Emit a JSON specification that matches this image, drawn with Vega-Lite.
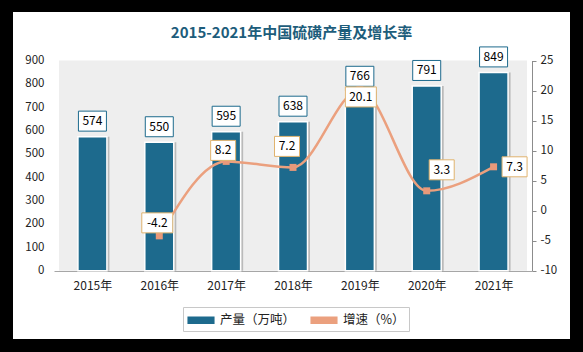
{
  "$schema": "https://vega.github.io/schema/vega-lite/v6.json",
  "width": 557,
  "height": 327,
  "autosize": {"type": "none"},
  "padding": {"left": 13, "top": 12, "right": 13, "bottom": 13},
  "background": "#000000",
  "config": {
    "view": {"stroke": null, "fill": "white"},
    "font": "Noto Sans CJK SC"
  },
  "title": {
    "text": "2015-2021年中国硫磺产量及增长率",
    "font": "Noto Sans CJK SC",
    "fontSize": 15,
    "fontWeight": "bold",
    "color": "#1d5d7b",
    "anchor": "middle",
    "baseline": "middle",
    "offset": -36
  },
  "data": {
    "values": [
      {"year": 2015, "output": 574, "growth": null},
      {"year": 2016, "output": 550, "growth": -4.2},
      {"year": 2017, "output": 595, "growth": 8.2},
      {"year": 2018, "output": 638, "growth": 7.2},
      {"year": 2019, "output": 766, "growth": 20.1},
      {"year": 2020, "output": 791, "growth": 3.3},
      {"year": 2021, "output": 849, "growth": 7.3}
    ]
  },
  "layer": [
    {
      "layer": [
        {
          "data": {"values": [{}]},
          "mark": {"type": "rect", "fill": "#eeeeee"},
          "encoding": {
            "x": {
              "datum": 2014.5,
              "type": "quantitative",
              "scale": {"domain": [2014.5, 2021.5], "range": [41, 519], "nice": false, "zero": false},
              "axis": {
                "title": null,
                "values": [2015, 2016, 2017, 2018, 2019, 2020, 2021],
                "labelExpr": "datum.value + '年'",
                "grid": false,
                "ticks": false,
                "tickSize": 0,
                "domainColor": "#a6a6a6",
                "labelPadding": 9,
                "labelFlush": false,
                "labelOverlap": false,
                "offset": -68,
                "labelFontSize": 12,
                "labelColor": "#222222",
                "labelFont": "Noto Sans CJK SC"
              }
            },
            "x2": {"datum": 2021.5},
            "y": {
              "datum": 0,
              "type": "quantitative",
              "scale": {"domain": [0, 900], "range": [258.7, 48.5], "nice": false, "zero": true},
              "axis": {
                "title": null,
                "values": [0, 100, 200, 300, 400, 500, 600, 700, 800, 900],
                "tickCount": 10,
                "labelOverlap": false,
                "grid": false,
                "domain": false,
                "ticks": false,
                "tickSize": 0,
                "labelPadding": 10,
                "offset": -41,
                "labelFontSize": 11.5,
                "labelColor": "#222222",
                "labelFont": "Noto Sans CJK SC"
              }
            },
            "y2": {"datum": 900}
          }
        },
        {
          "mark": {"type": "bar", "size": 29, "color": "#7a7a7a", "opacity": 0.45, "xOffset": 2.5},
          "encoding": {
            "x": {"field": "year", "type": "quantitative"},
            "y": {"field": "output", "type": "quantitative"}
          }
        },
        {
          "mark": {"type": "bar", "size": 29, "stroke": "white", "strokeWidth": 1.5},
          "encoding": {
            "x": {"field": "year", "type": "quantitative"},
            "y": {
              "field": "output",
              "type": "quantitative",
              "axis": {
                "title": null,
                "values": [0, 100, 200, 300, 400, 500, 600, 700, 800, 900],
                "tickCount": 10,
                "labelOverlap": false,
                "grid": false,
                "domain": false,
                "ticks": false,
                "tickSize": 0,
                "labelPadding": 10,
                "offset": -41,
                "labelFontSize": 11.5,
                "labelColor": "#222222",
                "labelFont": "Noto Sans CJK SC"
              }
            },
            "color": {
              "datum": "产量（万吨）",
              "scale": {"domain": ["产量（万吨）", "增速（%）"], "range": ["#1d6a8d", "#eba07e"]},
              "legend": {
                "orient": "none",
                "legendX": 170,
                "legendY": 295,
                "direction": "horizontal",
                "title": null,
                "symbolType": "M-1.6,-0.38L1.6,-0.38L1.6,0.38L-1.6,0.38Z",
                "symbolSize": 256,
                "symbolOffset": 5,
                "labelFont": "Noto Sans CJK SC",
                "labelFontSize": 12.5,
                "labelColor": "#222222",
                "strokeColor": "#c8c8c8",
                "fillColor": "white",
                "padding": 4,
                "columnPadding": 12,
                "labelOffset": 10,
                "encode": {
                  "symbols": {
                    "shape": {"condition": {"test": "datum.value === '产量（万吨）'", "value": "M-1.6,-0.38L1.6,-0.38L1.6,0.38L-1.6,0.38Z"}, "value": "M-1.85,-0.12L1.85,-0.12L1.85,0.12L-1.85,0.12Z M-0.42,-0.42L0.42,-0.42L0.42,0.42L-0.42,0.42Z"},
                    "fill": {"condition": {"test": "datum.value === '产量（万吨）'", "value": "#1d6a8d"}, "value": "#e8997a"},
                    "stroke": {"condition": {"test": "datum.value === '产量（万吨）'", "value": "#1d6a8d"}, "value": "#e8997a"},
                    "strokeWidth": {"value": 0},
                    "opacity": {"value": 1}
                  }
                }
              }
            }
          }
        },
        {
          "mark": {"type": "point", "shape": "M-1.4,-1H1.4V1H-1.4Z", "size": 400, "filled": true, "fill": "white", "stroke": "#1d6a8d", "strokeWidth": 1, "opacity": 1, "yOffset": -15.5},
          "encoding": {
            "x": {"field": "year", "type": "quantitative"},
            "y": {"field": "output", "type": "quantitative"}
          }
        },
        {
          "mark": {"type": "text", "fontSize": 12, "color": "#000000", "dy": -15.5, "baseline": "middle", "align": "center"},
          "encoding": {
            "x": {"field": "year", "type": "quantitative"},
            "y": {"field": "output", "type": "quantitative"},
            "text": {"field": "output", "type": "quantitative", "format": "d"}
          }
        }
      ]
    },
    {
      "transform": [{"filter": "datum.growth != null"}],
      "layer": [
        {
          "mark": {"type": "line", "interpolate": "monotone", "strokeWidth": 2.5},
          "encoding": {
            "x": {"field": "year", "type": "quantitative"},
            "y": {
              "field": "growth",
              "type": "quantitative",
              "scale": {"domain": [-10, 25], "range": [258.7, 48.5], "nice": false, "zero": false},
              "axis": {
                "title": null,
                "orient": "right",
                "values": [-10, -5, 0, 5, 10, 15, 20, 25],
                "labelExpr": "toString(datum.value)",
                "labelOverlap": false,
                "grid": false,
                "domain": true,
                "domainColor": "#8c8c8c",
                "ticks": true,
                "tickColor": "#8c8c8c",
                "tickSize": 4,
                "labelPadding": 4,
                "offset": -38,
                "labelFontSize": 11.5,
                "labelColor": "#222222",
                "labelFont": "Noto Sans CJK SC"
              }
            },
            "color": {"datum": "增速（%）"}
          }
        },
        {
          "mark": {"type": "point", "shape": "square", "filled": true, "size": 49, "color": "#e8997a", "opacity": 1},
          "encoding": {
            "x": {"field": "year", "type": "quantitative"},
            "y": {"field": "growth", "type": "quantitative"}
          }
        },
        {
          "mark": {
            "type": "point",
            "shape": {"expr": "(datum.growth < 0 || datum.growth >= 10) ? 'M-1.55,-1H1.55V1H-1.55Z' : 'M-1.25,-1H1.25V1H-1.25Z'"},
            "size": 400,
            "filled": true,
            "fill": "white",
            "stroke": "#e0b36e",
            "strokeWidth": 1,
            "opacity": 1,
            "xOffset": {"expr": "datum.year == 2016 ? -2 : datum.year == 2017 ? -3 : datum.year == 2018 ? -6 : datum.year == 2019 ? 1 : datum.year == 2020 ? 15 : 21"},
            "yOffset": {"expr": "datum.year == 2016 ? -13 : datum.year == 2017 ? -11 : datum.year == 2018 ? -21 : datum.year == 2019 ? 7 : datum.year == 2020 ? -21 : 0"}
          },
          "encoding": {
            "x": {"field": "year", "type": "quantitative"},
            "y": {"field": "growth", "type": "quantitative"}
          }
        },
        {
          "mark": {
            "type": "text",
            "fontSize": 12,
            "color": "#000000",
            "baseline": "middle",
            "align": "center",
            "dx": {"expr": "datum.year == 2016 ? -2 : datum.year == 2017 ? -3 : datum.year == 2018 ? -6 : datum.year == 2019 ? 1 : datum.year == 2020 ? 15 : 21"},
            "dy": {"expr": "datum.year == 2016 ? -13 : datum.year == 2017 ? -11 : datum.year == 2018 ? -21 : datum.year == 2019 ? 7 : datum.year == 2020 ? -21 : 0"}
          },
          "encoding": {
            "x": {"field": "year", "type": "quantitative"},
            "y": {"field": "growth", "type": "quantitative"},
            "text": {"field": "growth", "type": "nominal"}
          }
        }
      ]
    }
  ],
  "resolve": {"scale": {"y": "independent"}}
}
